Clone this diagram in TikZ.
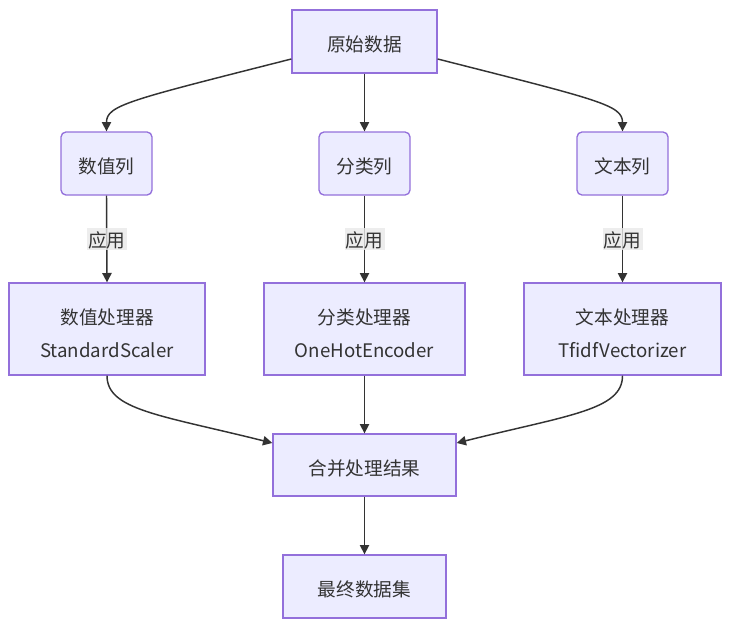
\documentclass[tikz,border=0pt]{standalone}
\usepackage{fontspec}
\setmainfont{Noto Sans CJK SC}
\usetikzlibrary{arrows.meta,calc}
\definecolor{nodefill}{HTML}{ECECFF}
\definecolor{nodeline}{HTML}{9370DB}
\definecolor{txt}{HTML}{333333}
\definecolor{lblbg}{HTML}{E8E8E8}
\newcommand\dn[2][2.3pt]{\raisebox{-#1}[\height][\depth]{#2}}
\begin{document}
\begin{tikzpicture}[x=0.75pt,y=-0.75pt,
  box/.style={draw=nodeline, fill=nodefill, line width=1pt, text=txt,
    font=\fontsize{14}{17}\selectfont, inner sep=0pt, align=center},
  colbox/.style={box, rounded corners=3.75pt, minimum width=68.25pt, minimum height=47.25pt},
  edge/.style={draw=txt, line width=1.1pt, -{Triangle[length=7pt,width=7pt]}},
  lbl/.style={fill=lblbg, fill opacity=0.8, text opacity=1, text=txt,
    font=\fontsize{14}{17}\selectfont, inner xsep=1pt, inner ysep=2pt}]
\useasboundingbox (0,0) rectangle (730,628);

\node[box, minimum width=108.75pt, minimum height=47.25pt] (A) at (364.5,41.5) {\dn{原始数据}};
\node[colbox] (B) at (106.5,163.5) {\dn{数值列}};
\node[colbox] (C) at (364.5,163.5) {\dn{分类列}};
\node[colbox] (D) at (622.5,163.5) {\dn{文本列}};
\node[box, minimum width=147pt, minimum height=69pt] (E) at (107,329) {\dn[3.2pt]{数值处理器}\\[8pt]\dn[3.2pt]{StandardScaler}};
\node[box, minimum width=150.75pt, minimum height=69pt] (F) at (364.5,329) {\dn[3.2pt]{分类处理器}\\[8pt]\dn[3.2pt]{OneHotEncoder}};
\node[box, minimum width=147.75pt, minimum height=69pt] (G) at (622.5,329) {\dn[3.2pt]{文本处理器}\\[8pt]\dn[3.2pt]{TfidfVectorizer}};
\node[box, minimum width=137.25pt, minimum height=46.5pt] (H) at (364.5,465) {\dn{合并处理结果}};
\node[box, minimum width=122.25pt, minimum height=47.25pt] (I) at (364.5,586.5) {\dn{最终数据集}};

\draw[edge] ($(A.west)+(0,17.5)$) .. controls (130,100) and (106.5,105) .. (B.north);
\draw[edge] (A.south) -- (C.north);
\draw[edge] ($(A.east)+(0,17.5)$) .. controls (599,100) and (622.5,105) .. (D.north);

\draw[edge] (B.south) -- node[lbl] {\dn[1.2pt]{应用}} (E.north);
\draw[edge] (C.south) -- node[lbl] {\dn[1.2pt]{应用}} (F.north);
\draw[edge] (D.south) -- node[lbl] {\dn[1.2pt]{应用}} (G.north);

\draw[edge] (E.south) .. controls (107,410) and (160,415) .. ($(H.west)+(0,-22)$);
\draw[edge] (F.south) -- (H.north);
\draw[edge] (G.south) .. controls (622.5,410) and (569,415) .. ($(H.east)+(0,-22)$);
\draw[edge] (H.south) -- (I.north);
\end{tikzpicture}
\end{document}
